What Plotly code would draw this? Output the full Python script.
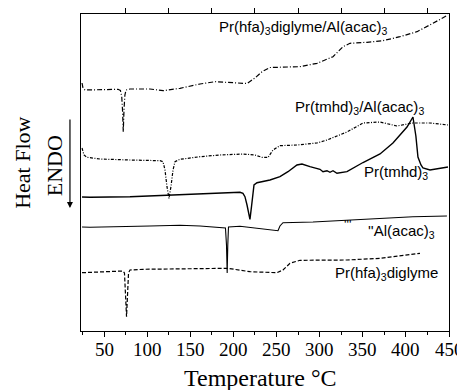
import plotly.graph_objects as go

# ---- data (temperature in °C, heat flow in arbitrary offset units) ----
temp_hfa_al = [24.5, 25.6, 27.9, 45.3, 66.2, 69.0, 70.5, 71.5, 72.3, 73.2, 74.2, 75.5, 80.1, 103.3, 118.4,
               138.1, 161.3, 178.7, 196.1, 215.8, 225.0, 233.2, 242.4, 257.5, 277.2, 297.0, 315.5, 327.1,
               335.2, 354.9, 373.4, 393.1, 412.9, 431.4, 448.8]
hf_hfa_al = [248, 243, 241, 241.3, 241.7, 240.5, 235, 220, 199.3, 222, 236, 241, 242, 242, 240.3,
             242.7, 247, 249.3, 248.3, 247.5, 253, 259.3, 263.5, 263.7, 264.3, 267.7, 274.3, 284.3,
             287.7, 288.7, 290.3, 294.3, 299.3, 307.7, 316]

temp_tmhd_al = [24.5, 26.8, 30.3, 45.3, 80.1, 103.3, 114.9, 118.4, 120.7, 123.0, 125.3, 127.6, 130.0,
                132.3, 138.1, 161.3, 184.5, 211.1, 225.0, 233.2, 240.1, 245.9, 254.0, 273.7, 297.0,
                308.5, 331.7, 350.3, 370.0, 389.7, 408.2, 427.9, 448.8]
hf_tmhd_al = [183, 176, 173.7, 172, 171, 170.7, 170.3, 169.3, 161, 144.3, 132.7, 144.3, 161,
              169.3, 171.7, 174.3, 176, 177, 176, 173.7, 173.5, 181, 185.3, 186, 188,
              191, 199, 208, 209, 205, 208, 208, 206]

temp_tmhd = [24.5, 33.7, 80.1, 126.5, 161.3, 196.1, 207.6, 211.1, 213.4, 215.8, 218.1, 219.2, 221.0,
             222.7, 223.9, 227.4, 242.4, 254.0, 263.3, 273.7, 279.5, 288.8, 300.4, 303.9, 308.5,
             312.0, 315.5, 320.1, 331.7, 350.3, 370.0, 385.0, 393.1, 401.3, 408.2, 411.6, 414.0,
             417.5, 419.8, 427.9, 448.8]
hf_tmhd = [134, 133.7, 134.3, 136, 137, 138.3, 138.7, 137.7, 134.3, 126, 114.3, 111.7, 124.3,
           141, 146, 148.3, 151, 154.3, 159.3, 166, 167, 164.3, 161.7, 159.3, 160.3,
           158.7, 160.3, 157.7, 159.3, 168.5, 177, 188, 196, 204, 214, 195, 174,
           166, 163, 161, 164]

temp_al = [24.5, 33.7, 103.3, 138.1, 161.3, 186.8, 190.8, 192.0, 192.8, 193.5, 194.3, 207.6, 219.2,
           242.4, 251.7, 254.0, 257.5, 292.3, 331.7, 370.0, 408.2, 447.6]
hf_al = [104, 103.7, 105, 105.7, 105, 103.7, 103, 86, 58, 86, 104, 104.7, 103.7,
         101.7, 100.3, 105, 108.3, 109, 111, 112.7, 114.3, 115]

temp_hfa = [24.5, 45.3, 72.0, 73.7, 76.1, 78.4, 80.1, 95.2, 138.1, 193.7, 219.2, 250.5, 257.5,
            265.6, 277.2, 331.7, 370.0, 416.4]
hf_hfa = [58.3, 59, 60, 58, 14.3, 58, 61, 61.7, 62, 62.7, 59.3, 58.3, 61,
          67.7, 70.7, 71, 72.7, 77.7]

bottom_major_ticks = [50, 100, 150, 200, 250, 300, 350, 400, 450]
bottom_tick_labels = ["50", "100", "150", "200", "250", "300", "350", "400", "450"]
bottom_minor_ticks = [25, 75, 125, 175, 225, 275, 325, 375, 425]
top_ticks = [75, 125, 175, 225, 275, 325, 375, 425]

labels = ["Pr(hfa)<sub>3</sub>diglyme/Al(acac)<sub>3</sub>",
          "Pr(tmhd)<sub>3</sub>/Al(acac)<sub>3</sub>",
          "Pr(tmhd)<sub>3</sub>",
          "''Al(acac)<sub>3</sub>",
          "Pr(hfa)<sub>3</sub>diglyme"]
label_x = [181, 269, 349, 353.7, 315.5]
label_y = [304, 224, 159, 100, 58]

X_RANGE = [23.3, 450]
Y_RANGE = [0, 317]

SERIF = "Liberation Serif"
SANS = "Liberation Sans"

fig = go.Figure()

series = [
    (temp_hfa_al, hf_hfa_al, 1.2, "5px,2px,1px,2px"),
    (temp_tmhd_al, hf_tmhd_al, 1.2, "3px,1.5px,1px,1.5px"),
    (temp_tmhd, hf_tmhd, 1.4, "solid"),
    (temp_al, hf_al, 1.1, "solid"),
    (temp_hfa, hf_hfa, 1.2, "4px,2px"),
]
for xs, ys, w, d in series:
    fig.add_trace(go.Scatter(x=xs, y=ys, mode="lines", showlegend=False, hoverinfo="skip",
                             line=dict(color="black", width=w, dash=d)))

# invisible traces to activate the top-tick axis and the minor-tick axis
for ax in ("x2", "x3"):
    fig.add_trace(go.Scatter(x=[X_RANGE[0]], y=[Y_RANGE[0]], xaxis=ax, mode="markers",
                             marker=dict(opacity=0), showlegend=False, hoverinfo="skip"))

for txt, lx, ly in zip(labels, label_x, label_y):
    fig.add_annotation(x=lx, y=ly, xref="x", yref="y", text=txt, showarrow=False,
                       xanchor="left", yanchor="middle",
                       font=dict(family=SANS, size=15, color="black"))

fig.add_annotation(x=325.9, y=107, xref="x", yref="y", text="'''", showarrow=False,
                   xanchor="left", yanchor="middle", font=dict(family=SANS, size=13, color="black"))

# serif tick labels placed at the x-axis tick positions
for tv, tt in zip(bottom_major_ticks, bottom_tick_labels):
    fig.add_annotation(x=tv, y=-0.057, xref="x", yref="paper", text=tt, showarrow=False,
                       xanchor="center", yanchor="middle",
                       font=dict(family=SERIF, size=19, color="black"))

# y-axis titles
fig.add_annotation(x=-0.158, y=0.53, xref="paper", yref="paper", text="Heat Flow", textangle=-90,
                   xanchor="center", yanchor="middle", showarrow=False,
                   font=dict(family=SERIF, size=22, color="black"))
fig.add_annotation(x=-0.073, y=0.52, xref="paper", yref="paper", text="ENDO", textangle=-90,
                   xanchor="center", yanchor="middle", showarrow=False,
                   font=dict(family=SERIF, size=22, color="black"))
# arrow
fig.add_annotation(x=-0.030, y=0.388, xref="paper", yref="paper", text="", showarrow=True,
                   ax=0, ay=-90, arrowhead=2, arrowsize=1, arrowwidth=1.2, arrowcolor="black")
# x-axis title
fig.add_annotation(x=0.489, y=-0.148, xref="paper", yref="paper", text="Temperature °C",
                   showarrow=False, xanchor="center", yanchor="middle",
                   font=dict(family=SERIF, size=24, color="black"))

# the page body adds an 8px offset, so the figure is sized to fit the window
fig.update_layout(
    template="none",
    width=457, height=382,
    margin=dict(l=73, r=16, t=6, b=59, autoexpand=False),
    paper_bgcolor="white", plot_bgcolor="white",
    font=dict(family=SERIF, color="black"),
    xaxis=dict(range=X_RANGE, automargin=False, showgrid=False, zeroline=False, showline=True,
               linecolor="black", linewidth=1.3, mirror=True, ticks="outside", ticklen=5,
               tickwidth=1.1, tickcolor="black", tickmode="array", tickvals=bottom_major_ticks,
               showticklabels=False),
    xaxis2=dict(range=X_RANGE, automargin=False, overlaying="x", side="top", showgrid=False,
                zeroline=False, showline=False, ticks="outside", ticklen=5, tickwidth=1.1,
                tickcolor="black", tickmode="array", tickvals=top_ticks, showticklabels=False),
    xaxis3=dict(range=X_RANGE, automargin=False, overlaying="x", side="bottom", showgrid=False,
                zeroline=False, showline=False, ticks="outside", ticklen=3, tickwidth=1,
                tickcolor="black", tickmode="array", tickvals=bottom_minor_ticks,
                showticklabels=False),
    yaxis=dict(range=Y_RANGE, automargin=False, showgrid=False, zeroline=False, showline=True,
               linecolor="black", linewidth=1.3, mirror=True, ticks="", showticklabels=False),
)

fig.write_html("out.html")
